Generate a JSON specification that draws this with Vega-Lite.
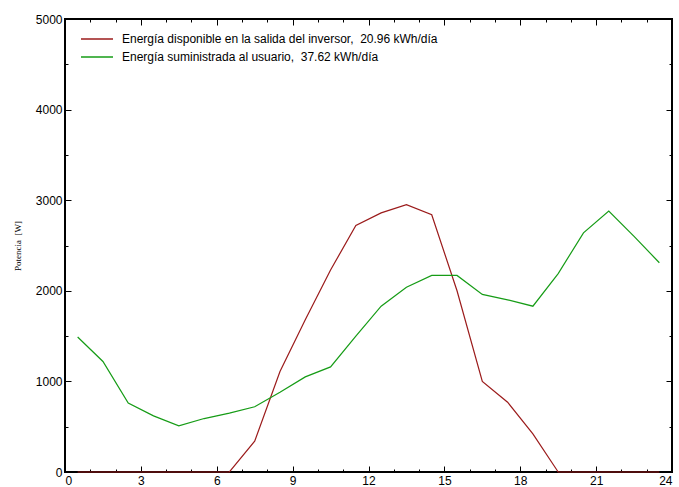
{
  "$schema": "https://vega.github.io/schema/vega-lite/v6.json",
  "width": 607,
  "height": 453,
  "autosize": {"type": "none"},
  "padding": {"left": 65, "top": 19, "right": 7, "bottom": 15},
  "background": "white",
  "config": {
    "view": {"stroke": "#000", "strokeWidth": 2},
    "font": "Liberation Sans",
    "axis": {"grid": false, "domain": false, "zindex": 1, "tickColor": "#000", "tickWidth": 1, "labelColor": "#000", "labelFontSize": 12, "labelFont": "Liberation Sans", "title": null}
  },
  "data": {
    "values": [
      {"h": 0.5, "s": "inversor", "v": 0}, {"h": 1.5, "s": "inversor", "v": 0}, {"h": 2.5, "s": "inversor", "v": 0},
      {"h": 3.5, "s": "inversor", "v": 0}, {"h": 4.5, "s": "inversor", "v": 0}, {"h": 5.5, "s": "inversor", "v": 0},
      {"h": 6.5, "s": "inversor", "v": 0}, {"h": 7.5, "s": "inversor", "v": 340}, {"h": 8.5, "s": "inversor", "v": 1110},
      {"h": 9.5, "s": "inversor", "v": 1680}, {"h": 10.5, "s": "inversor", "v": 2230}, {"h": 11.5, "s": "inversor", "v": 2720},
      {"h": 12.5, "s": "inversor", "v": 2860}, {"h": 13.5, "s": "inversor", "v": 2950}, {"h": 14.5, "s": "inversor", "v": 2840},
      {"h": 15.5, "s": "inversor", "v": 2000}, {"h": 16.5, "s": "inversor", "v": 1000}, {"h": 17.5, "s": "inversor", "v": 770},
      {"h": 18.5, "s": "inversor", "v": 420}, {"h": 19.5, "s": "inversor", "v": 0}, {"h": 20.5, "s": "inversor", "v": 0},
      {"h": 21.5, "s": "inversor", "v": 0}, {"h": 22.5, "s": "inversor", "v": 0}, {"h": 23.5, "s": "inversor", "v": 0},
      {"h": 0.5, "s": "usuario", "v": 1490}, {"h": 1.5, "s": "usuario", "v": 1220}, {"h": 2.5, "s": "usuario", "v": 760},
      {"h": 3.5, "s": "usuario", "v": 620}, {"h": 4.5, "s": "usuario", "v": 510}, {"h": 5.5, "s": "usuario", "v": 590},
      {"h": 6.5, "s": "usuario", "v": 650}, {"h": 7.5, "s": "usuario", "v": 720}, {"h": 8.5, "s": "usuario", "v": 880},
      {"h": 9.5, "s": "usuario", "v": 1050}, {"h": 10.5, "s": "usuario", "v": 1160}, {"h": 11.5, "s": "usuario", "v": 1500},
      {"h": 12.5, "s": "usuario", "v": 1830}, {"h": 13.5, "s": "usuario", "v": 2040}, {"h": 14.5, "s": "usuario", "v": 2170},
      {"h": 15.5, "s": "usuario", "v": 2170}, {"h": 16.5, "s": "usuario", "v": 1960}, {"h": 17.5, "s": "usuario", "v": 1900},
      {"h": 18.5, "s": "usuario", "v": 1830}, {"h": 19.5, "s": "usuario", "v": 2190}, {"h": 20.5, "s": "usuario", "v": 2640},
      {"h": 21.5, "s": "usuario", "v": 2880}, {"h": 22.5, "s": "usuario", "v": 2600}, {"h": 23.5, "s": "usuario", "v": 2310}
    ]
  },
  "layer": [
    {
      "mark": {"type": "line", "strokeWidth": 1.2},
      "encoding": {
        "x": {"field": "h", "type": "quantitative", "scale": {"domain": [0, 24], "nice": false},
          "axis": {"orient": "bottom", "values": [0,3,6,9,12,15,18,21,24], "tickSize": 6, "offset": -6, "labelPadding": 3}},
        "y": {"field": "v", "type": "quantitative", "scale": {"domain": [0, 5000], "nice": false},
          "axis": {"orient": "left", "values": [0,1000,2000,3000,4000,5000], "format": "d", "tickSize": 6, "offset": -6, "labelPadding": 3,
            "title": "Potencia \u00a0[W]", "titleFont": "Liberation Serif", "titleFontSize": 9, "titleFontWeight": "normal", "titleColor": "#000", "titlePadding": 13}},
        "color": {
          "field": "s", "type": "nominal",
          "scale": {"domain": ["inversor", "usuario"], "range": ["#9B1B1B", "#169C16"]},
          "legend": {
            "orient": "none", "legendX": 26, "legendY": 14, "title": null,
            "labelExpr": "datum.value == 'inversor' ? 'Energía disponible en la salida del inversor,\u00a0 20.96 kWh/día' : 'Energía suministrada al usuario,\u00a0 37.62 kWh/día'",
            "symbolType": "M-4,0H4", "symbolSize": 64, "symbolStrokeWidth": 1.5,
            "labelOffset": 19, "labelFontSize": 12, "labelFont": "Liberation Sans", "labelColor": "#000",
            "rowPadding": 6, "padding": 0, "labelLimit": 500
          }
        }
      }
    },
    {
      "mark": {"type": "line", "opacity": 0},
      "encoding": {
        "x": {"field": "h", "type": "quantitative", "scale": {"domain": [0, 24], "nice": false},
          "axis": {"orient": "bottom", "values": [1,2,4,5,7,8,10,11,13,14,16,17,19,20,22,23], "tickSize": 3, "offset": -3, "labels": false}},
        "y": {"field": "v", "type": "quantitative", "scale": {"domain": [0, 5000], "nice": false},
          "axis": {"orient": "left", "values": [500,1500,2500,3500,4500], "tickSize": 3, "offset": -3, "labels": false}},
        "detail": {"field": "s"}
      }
    },
    {
      "mark": {"type": "line", "opacity": 0},
      "encoding": {
        "x": {"field": "h", "type": "quantitative", "scale": {"domain": [0, 24], "nice": false},
          "axis": {"orient": "top", "values": [1,2,4,5,7,8,10,11,13,14,16,17,19,20,22,23], "tickSize": 3, "offset": -3, "labels": false}},
        "y": {"field": "v", "type": "quantitative", "scale": {"domain": [0, 5000], "nice": false},
          "axis": {"orient": "right", "values": [500,1500,2500,3500,4500], "tickSize": 3, "offset": -3, "labels": false}},
        "detail": {"field": "s"}
      }
    },
    {
      "mark": {"type": "line", "opacity": 0},
      "encoding": {
        "x": {"field": "h", "type": "quantitative", "scale": {"domain": [0, 24], "nice": false},
          "axis": {"orient": "top", "values": [0,3,6,9,12,15,18,21,24], "tickSize": 6, "offset": -6, "labels": false}},
        "y": {"field": "v", "type": "quantitative", "scale": {"domain": [0, 5000], "nice": false},
          "axis": {"orient": "right", "values": [0,1000,2000,3000,4000,5000], "tickSize": 6, "offset": -6, "labels": false}},
        "detail": {"field": "s"}
      }
    }
  ],
  "resolve": {"scale": {"x": "independent", "y": "independent"}, "axis": {"x": "independent", "y": "independent"}}
}
